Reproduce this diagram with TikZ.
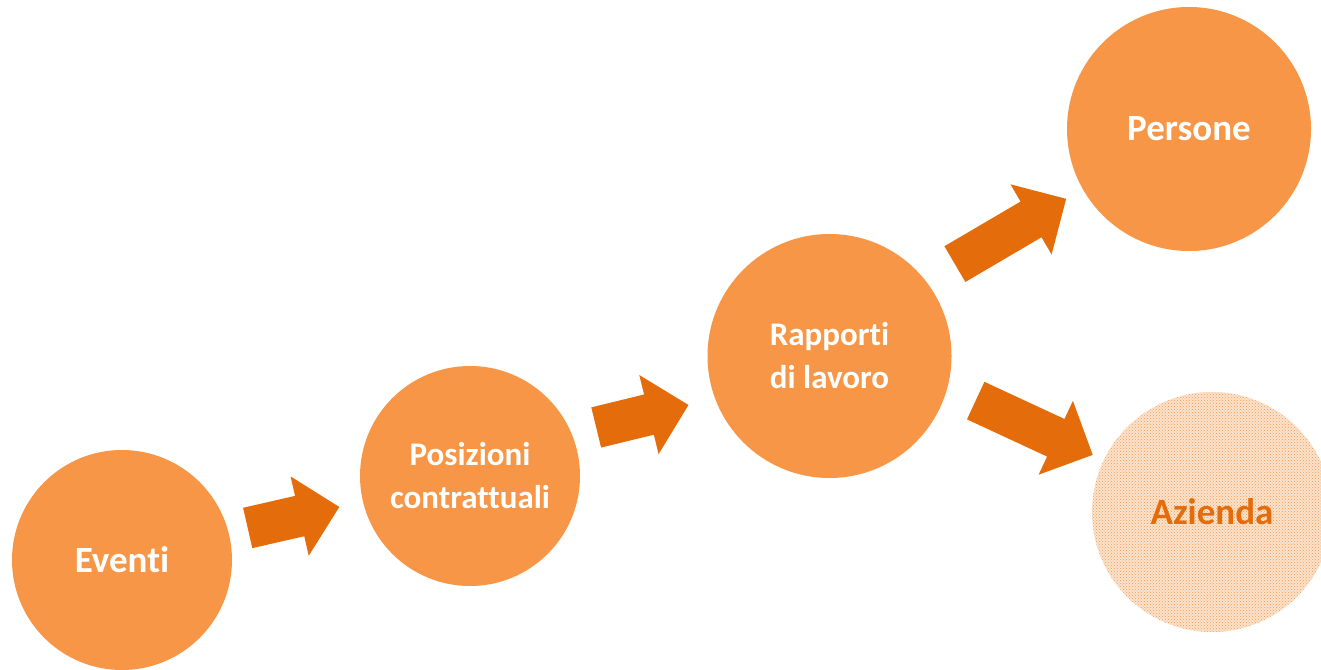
\documentclass[tikz,border=0pt]{standalone}
\usepackage{fontspec}
\setmainfont{Carlito}[Ligatures={NoCommon}]
\usetikzlibrary{shapes.arrows,patterns,calc}
\definecolor{circ}{HTML}{F79646}
\definecolor{arr}{HTML}{E46C0A}
\definecolor{dotc}{HTML}{F39A55}
\definecolor{azbase}{HTML}{FCE3CC}
\tikzset{
  bubble/.style={circle, fill=circ, inner sep=0pt, text=white, align=center,
    font=\bfseries\fontsize{37}{40}\selectfont},
  smalltext/.style={font=\bfseries\fontsize{33}{43}\selectfont},
  bigarrow/.style={single arrow, fill=arr, inner sep=0pt, text height=41pt,
    text depth=0pt, single arrow head extend=20pt, single arrow tip angle=90,
    anchor=tail}
}
\begin{document}
\begin{tikzpicture}[x=1pt,y=-1pt]
\useasboundingbox (0,0) rectangle (1321,669);
\clip (0,0) rectangle (1321,669);
% circles
\node[bubble, minimum size=220pt] (ev) at (122,560) {Eventi};
\node[bubble, smalltext, minimum size=220pt] (pc) at (470,476) {Posizioni\\contrattuali};
\node[bubble, smalltext, minimum size=244pt] (rp) at (829.5,356) {Rapporti\\di lavoro};
\node[bubble, minimum size=244pt] (pe) at (1189,129) {Persone};
\node[bubble, fill=none, preaction={fill=azbase}, pattern=crosshatch dots,
      pattern color=dotc, text=arr, minimum size=240pt] (az) at (1212,512) {Azienda};
% block arrows
\node[bigarrow, minimum height=94pt, rotate=12.9] (a1) at (247.5,528) {};
\node[bigarrow, minimum height=95pt, rotate=13.7] (a2) at (596,427.5) {};
\node[bigarrow, minimum height=129pt, rotate=30.4] (a3) at (954.7,264.2) {};
\node[bigarrow, minimum height=129pt, rotate=-24.9] (a4) at (975.5,400.5) {};
\end{tikzpicture}
\end{document}
